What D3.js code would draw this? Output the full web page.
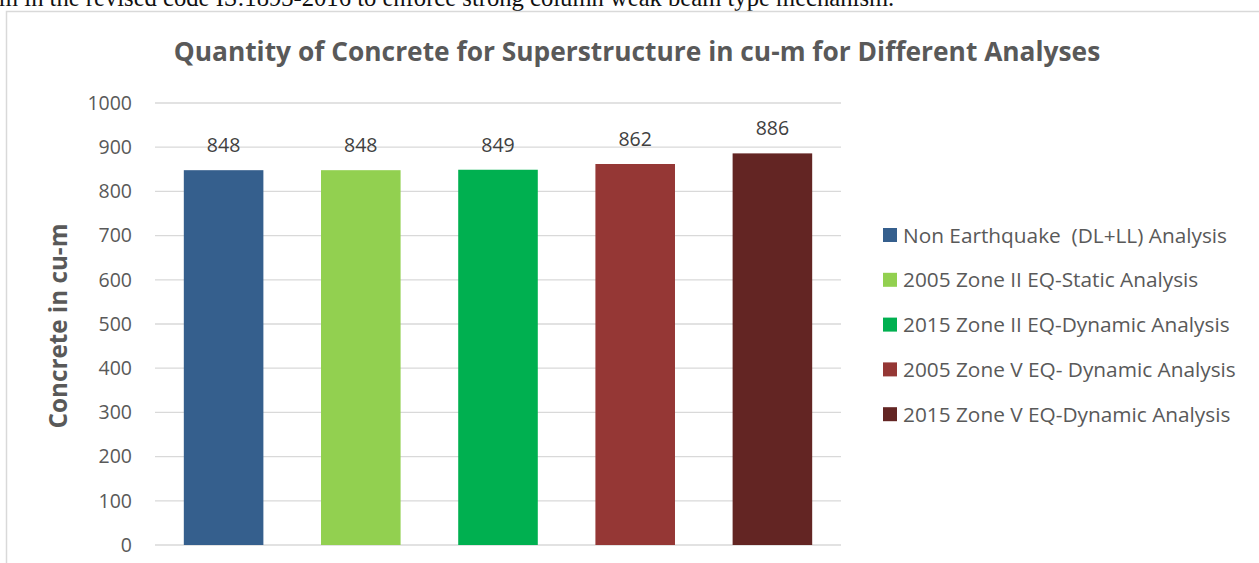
<!DOCTYPE html>
<html>
<head>
<meta charset="utf-8">
<script src="https://cdn.jsdelivr.net/npm/d3@7"></script>
<style>
  body { margin: 0; background: #fff; overflow: hidden; }
  svg { display: block; }
</style>
</head>
<body>
<div id="g-container"></div>
<script>

	var categories = ["Non Earthquake  (DL+LL) Analysis", "2005 Zone II EQ-Static Analysis", "2015 Zone II EQ-Dynamic Analysis", "2005 Zone V EQ- Dynamic Analysis", "2015 Zone V EQ-Dynamic Analysis"];
	var values = [848, 848, 849, 862, 886];
	var colors = ["#355F8D", "#92D050", "#00B050", "#953735", "#632523"];
	var yTicks = [0, 100, 200, 300, 400, 500, 600, 700, 800, 900, 1000];

	var W = 1259, H = 563;
	var txt = "#595959";
	var font = "'Open Sans', sans-serif";

	var svg = d3.select("#g-container").append("svg").attr("width", W).attr("height", H);

	// shrink/grow font so the text covers the wanted width
	function fit(sel, width){
		var size = parseFloat(sel.attr("font-size"));
		var w = sel.node().getComputedTextLength();
		sel.attr("font-size", size * width / w);
	}

	// bit of page text above the chart (cut off by the top edge, as in the source)
	var pageText = svg.append("text")
		.attr("x", -1).attr("y", 6)
		.attr("font-family", "'Liberation Serif', 'Times New Roman', serif")
		.attr("font-size", 21).attr("fill", "#111")
		.text("m in the revised code IS:1893-2016 to enforce strong column weak beam type mechanism.");
	fit(pageText, 896);

	// chart frame
	svg.append("rect")
		.attr("x", 6.5).attr("y", 11.5)
		.attr("width", W + 10).attr("height", H + 10)
		.attr("fill", "none").attr("stroke", "#d9d9d9").attr("stroke-width", 1.5);

	var title = svg.append("text")
		.attr("x", 637).attr("y", 61)
		.attr("text-anchor", "middle")
		.attr("font-family", font).attr("font-weight", "bold")
		.attr("font-size", 22).attr("fill", txt)
		.text("Quantity of Concrete for Superstructure in cu-m for Different Analyses");
	fit(title, 927);

	var x = d3.scaleBand().domain(categories).range([155, 841]).paddingInner(0.42).paddingOuter(0.21);
	var y = d3.scaleLinear().domain([0, 1000]).range([545, 103]);

	// gridlines
	svg.append("g").selectAll("line").data(yTicks).enter().append("line")
		.attr("x1", 155).attr("x2", 841)
		.attr("y1", function(d){ return y(d); })
		.attr("y2", function(d){ return y(d); })
		.attr("stroke", "#d9d9d9").attr("stroke-width", 1.3);

	// y axis labels
	var yAxis = svg.append("g").attr("transform", "translate(155,0)")
		.call(d3.axisLeft(y).tickValues(yTicks).tickFormat(d3.format("d")).tickSize(0).tickPadding(23));
	yAxis.select(".domain").remove();
	yAxis.selectAll("text")
		.attr("font-family", font).attr("font-size", 19.5).attr("fill", txt);

	var yTitle = svg.append("text")
		.attr("transform", "translate(67,326) rotate(-90)")
		.attr("text-anchor", "middle")
		.attr("font-family", font).attr("font-weight", "bold")
		.attr("font-size", 19).attr("fill", txt)
		.text("Concrete in cu-m");
	fit(yTitle, 205);

	// bars
	svg.append("g").selectAll("rect").data(values).enter().append("rect")
		.attr("x", function(d, i){ return x(categories[i]); })
		.attr("width", x.bandwidth())
		.attr("y", function(d){ return y(d); })
		.attr("height", function(d){ return y(0) - y(d); })
		.attr("fill", function(d, i){ return colors[i]; });

	// value labels
	svg.append("g").selectAll("text").data(values).enter().append("text")
		.attr("x", function(d, i){ return x(categories[i]) + x.bandwidth() / 2; })
		.attr("y", function(d){ return y(d) - 18; })
		.attr("text-anchor", "middle")
		.attr("font-family", font).attr("font-size", 19.5).attr("fill", "#404040")
		.text(function(d){ return d; });

	// legend
	var legend = svg.append("g").selectAll("g").data(categories).enter().append("g")
		.attr("transform", function(d, i){ return "translate(883," + (235 + i * 44.8) + ")"; });
	legend.append("rect")
		.attr("x", 0).attr("y", -7).attr("width", 14).attr("height", 14)
		.attr("fill", function(d, i){ return colors[i]; });
	legend.append("text")
		.attr("x", 20).attr("y", 0).attr("dy", "0.36em")
		.attr("font-family", font).attr("font-size", 20.8).attr("fill", txt)
		.attr("xml:space", "preserve")
		.style("white-space", "pre")
		.text(function(d){ return d; });

</script>
</body>
</html>
